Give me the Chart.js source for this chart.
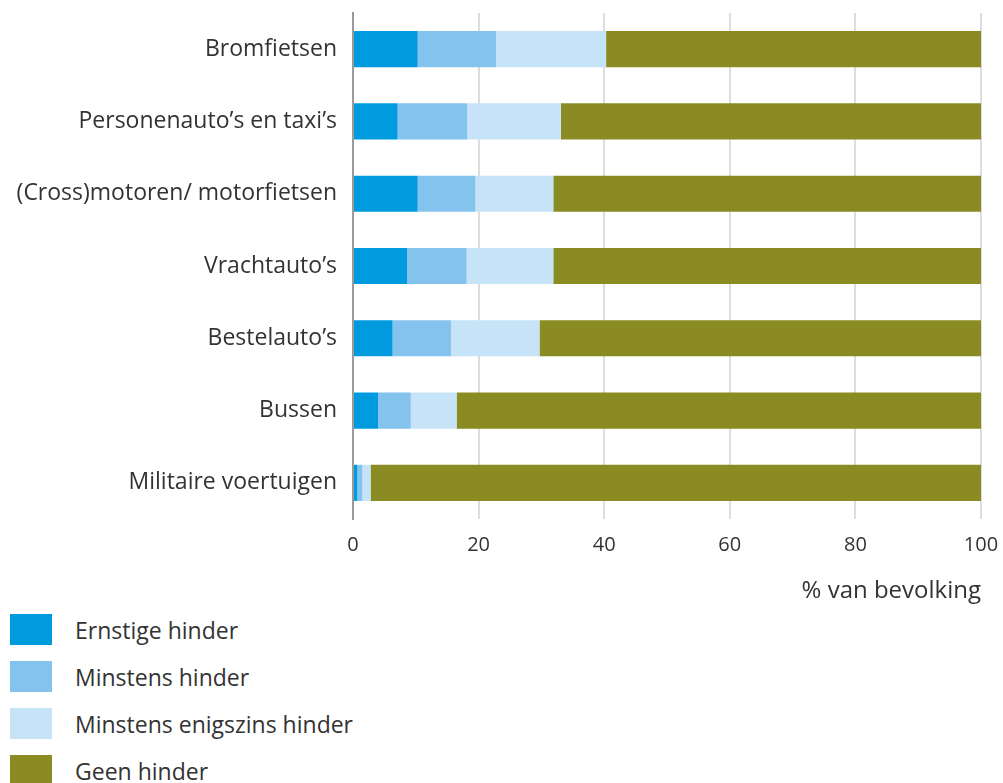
<!DOCTYPE html>
<html lang="nl">
<head>
  <meta charset="UTF-8">
  <title>Hinder door voertuigen</title>
  <script src="https://cdn.jsdelivr.net/npm/chart.js"></script>
  <style>
    * {
      box-sizing: border-box;
      margin: 0;
      padding: 0;
    }

    body {
      background: white;
      width: 1003px;
      height: 783px;
      overflow: hidden;
      position: relative;
      font-family: 'Open Sans', sans-serif;
      color: #333;
    }

    #chart {
      position: absolute;
      left: 0;
      top: 0;
    }

    #legend {
      position: absolute;
      left: 10px;
      top: 614px;
      list-style: none;
    }

    #legend li {
      display: flex;
      align-items: center;
      height: 31px;
      margin-bottom: 16px;
      font-size: 23px;
    }

    #legend .box {
      width: 42px;
      height: 31px;
      margin-right: 23px;
    }
  </style>
</head>
<body>

<canvas id="chart" width="1003" height="610"></canvas>
<ul id="legend"></ul>

<script>
  const categories = [
    'Bromfietsen',
    'Personenauto’s en taxi’s',
    '(Cross)motoren/ motorfietsen',
    'Vrachtauto’s',
    'Bestelauto’s',
    'Bussen',
    'Militaire voertuigen'
  ];

  const seriesNames = ['Ernstige hinder', 'Minstens hinder', 'Minstens enigszins hinder', 'Geen hinder'];
  const ernstig   = [10.3, 7.1, 10.3, 8.6, 6.3, 4.0, 0.7];
  const minstens  = [12.5, 11.1, 9.2, 9.5, 9.3, 5.2, 0.8];
  const enigszins = [17.5, 14.9, 12.4, 13.8, 14.1, 7.3, 1.3];
  const geen      = [59.7, 66.9, 68.1, 68.1, 70.3, 83.5, 97.2];
  const xTicks = [0, 20, 40, 60, 80, 100];

  const colors = ['#009bdf', '#84c3ee', '#c7e3f7', '#8a8c23'];
  const values = [ernstig, minstens, enigszins, geen];

  const datasets = seriesNames.map((name, i) => ({
    label: name,
    data: values[i],
    backgroundColor: colors[i],
    borderWidth: 0,
    barPercentage: 0.5,
    categoryPercentage: 1
  }));

  const chart = new Chart(document.getElementById('chart').getContext('2d'), {
    type: 'bar',
    data: { labels: categories, datasets: datasets },
    options: {
      indexAxis: 'y',
      responsive: false,
      animation: false,
      layout: { padding: { top: 13, right: 22, left: 0, bottom: 0 } },
      plugins: {
        legend: { display: false },
        tooltip: { enabled: false }
      },
      scales: {
        x: {
          stacked: true,
          min: 0,
          max: 100,
          afterBuildTicks: (scale) => { scale.ticks = xTicks.map(v => ({ value: v })); },
          afterFit: (scale) => {
            scale.height = 91;
            scale.paddingLeft = 0;
            scale.paddingRight = 0;
          },
          grid: { color: '#dddddd', lineWidth: 2, drawTicks: false },
          border: { display: false },
          ticks: {
            padding: 14,
            color: '#333',
            font: { family: 'Open Sans', size: 20 }
          },
          title: {
            display: true,
            text: '% van bevolking',
            align: 'end',
            color: '#333',
            font: { family: 'Open Sans', size: 24 },
            padding: { top: 20, bottom: 4 }
          }
        },
        y: {
          stacked: true,
          afterFit: (scale) => {
            scale.width = 353;
            scale.paddingTop = 0;
            scale.paddingBottom = 0;
          },
          grid: { display: false, drawTicks: false },
          border: { display: true, color: '#9a9a9a', width: 2 },
          ticks: {
            padding: 16,
            color: '#333',
            font: { family: 'Open Sans', size: 23 }
          }
        }
      }
    }
  });

  // legend as a list, one row per series
  const legend = document.getElementById('legend');
  chart.data.datasets.forEach(ds => {
    const li = document.createElement('li');
    const box = document.createElement('span');
    box.className = 'box';
    box.style.background = ds.backgroundColor;
    li.appendChild(box);
    li.appendChild(document.createTextNode(ds.label));
    legend.appendChild(li);
  });
</script>

</body>
</html>
